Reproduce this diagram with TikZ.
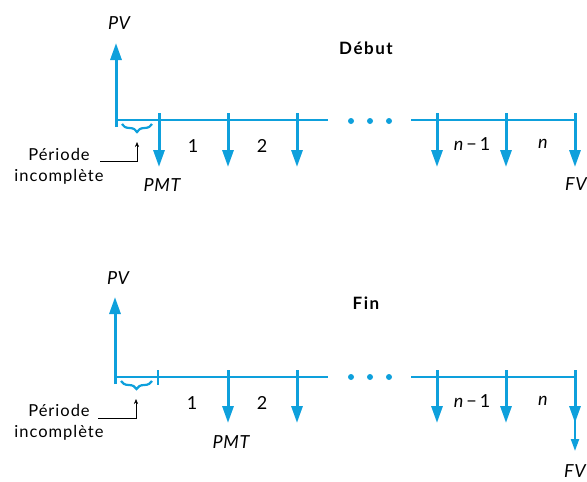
\documentclass[tikz,border=0pt]{standalone}
\usepackage{fontspec}
\setmainfont{Lato}
\usetikzlibrary{arrows.meta}
\usetikzlibrary{decorations.pathreplacing}
\definecolor{flowblue}{RGB}{14,160,220}

\begin{document}
\begin{tikzpicture}
    [x=1pt,y=-1pt,
     axis/.style={flowblue,line width=2pt},
     cash/.style={flowblue,line width=3pt,-{Triangle[length=17pt,width=11pt]}},
     lab/.style={font=\fontsize{18}{21}\selectfont\itshape\addfontfeatures{LetterSpace=4}},
     num/.style={font=\fontsize{18}{21}\selectfont},
     title/.style={font=\fontsize{17}{20}\selectfont\bfseries\addfontfeatures{LetterSpace=9}},
     note/.style={font=\fontsize{16.5}{21}\selectfont\addfontfeatures{LetterSpace=6},align=center},
     brc/.style={flowblue,line width=2.2pt,decorate,decoration={brace,mirror,amplitude=8pt}},
     dot/.style={circle,fill=flowblue,inner sep=0pt,minimum size=6pt}]
    \useasboundingbox (0,0) rectangle (587,482);
    % --- Debut ---
    \node[title] (deb) at (366,48) {Début};
    \coordinate (O1) at (116,120);
    \coordinate (P1) at (116,127);
    \coordinate (Q1) at (116,43);
    \coordinate (E1) at (328,120);
    \coordinate (S1) at (411,120);
    \coordinate (T1) at (576,120);
    \node[lab] (pv1) at (119,23) {PV};
    \draw[cash] (P1)--(Q1);
    \draw[axis] (O1)--(E1);
    \draw[axis] (S1)--(T1);
    \node[dot] (d11) at (351,121) {};
    \node[dot] (d12) at (370,121) {};
    \node[dot] (d13) at (389,121) {};
    \foreach \x in {159,228,297,437,506,575}
      \draw[cash] (\x,113)--(\x,167);
    \node[num] (n11) at (193,146) {1};
    \node[num] (n12) at (262,146) {2};
    \node[lab] (n13) at (472,144) {n\,\upshape{−}\,1};
    \node[lab] (n14) at (543,144) {n};
    \node[lab] (pmt1) at (162,185) {PMT};
    \node[lab] (fv1) at (576,184) {FV};
    \draw[brc] (122,124)--(152,124);
    \node[note] (inc1) at (59,166) {Période\\incomplète};
    \coordinate (B1) at (137,142);
    \draw[-{Stealth[length=5pt,width=4pt]}] (100,161)-|(B1);
    % --- Fin ---
    \node[title] (fin) at (366,303) {Fin};
    \coordinate (O2) at (115,377);
    \coordinate (P2) at (115,384);
    \coordinate (Q2) at (115,297);
    \coordinate (E2) at (328,377);
    \coordinate (S2) at (411,377);
    \coordinate (T2) at (576,377);
    \node[lab] (pv2) at (118,278) {PV};
    \draw[cash] (P2)--(Q2);
    \draw[axis] (O2)--(E2);
    \draw[axis] (S2)--(T2);
    \node[dot] (d21) at (351,377) {};
    \node[dot] (d22) at (370,377) {};
    \node[dot] (d23) at (389,377) {};
    \draw[axis] (158,370)--(158,385);
    \foreach \x in {228,297,437,506,575}
      \draw[cash] (\x,370)--(\x,423);
    \draw[flowblue,line width=2pt,-{Triangle[length=12pt,width=8pt]}] (575,415)--(575,451);
    \node[num] (n21) at (192,403) {1};
    \node[num] (n22) at (262,403) {2};
    \node[lab] (n23) at (472,401) {n\,\upshape{−}\,1};
    \node[lab] (n24) at (543,401) {n};
    \node[lab] (pmt2) at (231,442) {PMT};
    \node[lab] (fv2) at (575,471) {FV};
    \draw[brc] (121,381)--(152,381);
    \node[note] (inc2) at (59,422) {Période\\incomplète};
    \coordinate (B2) at (136,399);
    \draw[-{Stealth[length=5pt,width=4pt]}] (98,418)-|(B2);
\end{tikzpicture}
\end{document}
